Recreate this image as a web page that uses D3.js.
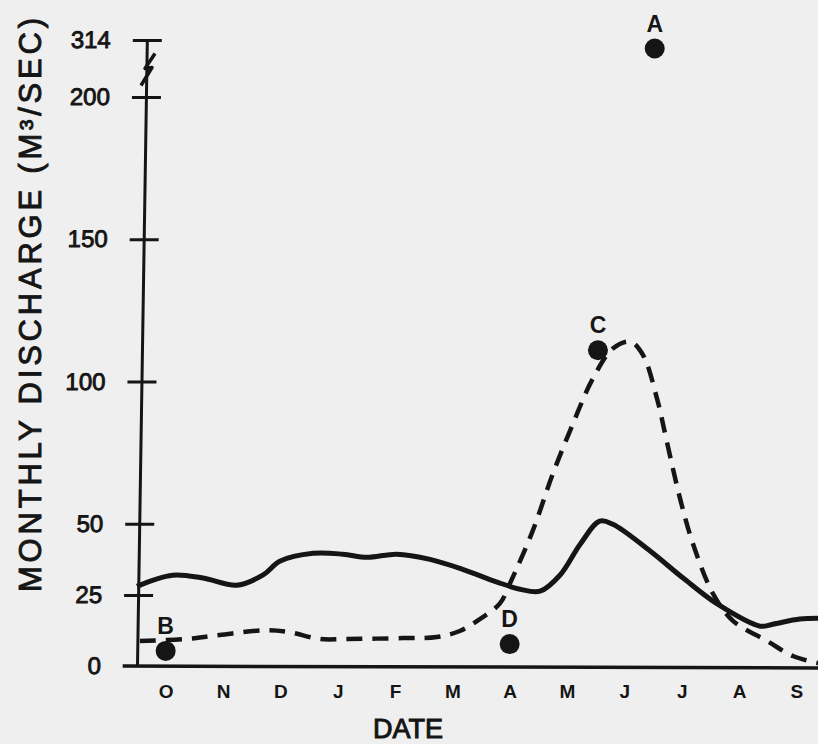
<!DOCTYPE html>
<html>
<head>
<meta charset="utf-8">
<script src="https://cdn.jsdelivr.net/npm/d3@7"></script>
<style>
  body { margin: 0; background: #efefef; }
  svg { display: block; }
  text { font-family: "Liberation Sans", Arial, sans-serif; font-weight: bold; fill: #151515; }
</style>
</head>
<body>
<div class="svg-container"></div>
<script>
'use strict';

// months from October to September (water year)
var months = ['O', 'N', 'D', 'J', 'F', 'M', 'A', 'M', 'J', 'J', 'A', 'S'];
var yTicks = [0, 25, 50, 100, 150, 200, 314];

// [month position, discharge m3/sec]
var solidLine = [
  [-0.5, 28], [0.12, 31.9], [0.65, 30.9], [1.24, 28.4], [1.7, 32],
  [1.99, 36.8], [2.57, 39.6], [3.09, 39.3], [3.51, 38.2], [4.03, 39.3],
  [4.61, 37.5], [5.18, 34], [5.78, 29.5], [6.18, 27], [6.53, 26.3],
  [6.88, 32], [7.23, 42.8], [7.57, 50.9], [7.8, 49.8], [8.45, 40.4],
  [9.02, 31], [9.62, 21.8], [10.37, 14], [10.59, 14.7], [11.06, 16.5], [11.38, 16.8]
];
var dashedLine = [
  [-0.45, 8.8], [0.37, 9.5], [0.94, 10.9], [1.76, 12.6], [2.16, 11.9],
  [2.69, 9.5], [3.16, 9.5], [4.14, 9.8], [4.73, 10.2], [5.13, 12.3],
  [5.48, 16.5], [5.83, 22], [6.0, 28.8], [6.4, 47.4], [6.75, 67.4],
  [7.1, 85], [7.45, 101], [7.8, 111.6], [8.1, 114], [8.32, 109.5],
  [8.57, 94], [8.74, 79], [8.97, 59], [9.2, 42.8], [9.55, 25.3],
  [9.9, 15.8], [10.49, 8.8], [10.94, 3.5], [11.38, 1]
];
var pointNames = ['A', 'B', 'C', 'D'];
var pointMonth = [8.53, 0, 7.54, 6];
var pointValue = [297, 5.3, 111, 7.7];

var width = 818, height = 744;
var ink = '#151515';

var x = d3.scaleLinear().domain([-0.5, 11.5]).range([137, 825]);
// broken axis: 200 to 314 squeezed
var y = d3.scaleLinear().domain([0, 200, 314]).range([666, 97, 40]);

var svg = d3.select('.svg-container')
  .append('svg')
    .attr('width', width)
    .attr('height', height);

svg.append('rect')
    .attr('width', width)
    .attr('height', height)
    .attr('fill', '#efefef');

// y axis, hand drawn so it leans a little to the right
var yAxis = svg.append('g')
    .attr('transform', 'translate(' + x(-0.5) + ',' + y(0) + ') skewX(-0.9) translate(0,' + (-y(0)) + ')')
    .call(d3.axisLeft(y).tickValues(yTicks).tickSize(0).tickPadding(36));
yAxis.select('.domain').attr('stroke', ink).attr('stroke-width', 3);
yAxis.selectAll('.tick line')
    .attr('x1', -14).attr('x2', 15)
    .attr('stroke', ink).attr('stroke-width', 3)
    .filter(function(d) { return d === 0; }).remove();
yAxis.selectAll('.tick text')
    .style('font-size', '24px')
    .style('font-weight', 'normal')
    .style('stroke', ink)
    .style('stroke-width', 0.9)
    .attr('fill', ink);

// break mark between 200 and 314
var bx = x(-0.5) + 9, by = (y(200) + y(314)) / 2 + 2;
svg.append('path')
    .attr('d', 'M' + (bx + 9) + ',' + (by - 17) + 'L' + (bx - 1) + ',' + (by - 2) +
               'L' + (bx + 6) + ',' + (by - 3) + 'L' + (bx - 5) + ',' + (by + 15))
    .attr('fill', 'none')
    .attr('stroke', ink)
    .attr('stroke-width', 3.5)
    .attr('stroke-linejoin', 'round');

// x axis
svg.append('line')
    .attr('x1', x(-0.75)).attr('x2', width)
    .attr('y1', y(0)).attr('y2', y(0) + 2)
    .attr('stroke', ink)
    .attr('stroke-width', 3.5);
var xAxis = svg.append('g')
    .attr('transform', 'translate(0,' + y(0) + ')')
    .call(d3.axisBottom(x).tickValues(d3.range(months.length))
      .tickFormat(function(d) { return months[d]; })
      .tickSize(0).tickPadding(19));
xAxis.select('.domain').remove();
xAxis.selectAll('.tick text')
    .style('font-size', '19px')
    .attr('fill', ink);

// axis titles
svg.append('text')
    .attr('x', 408)
    .attr('y', 738)
    .attr('text-anchor', 'middle')
    .style('font-size', '27px')
    .style('font-weight', 'normal')
    .style('stroke', ink)
    .style('stroke-width', 1)
    .text('DATE');

svg.append('text')
    .attr('transform', 'translate(41,305) rotate(-90)')
    .attr('text-anchor', 'middle')
    .attr('textLength', 574)
    .attr('lengthAdjust', 'spacing')
    .style('font-size', '31px')
    .style('font-weight', 'normal')
    .style('stroke', ink)
    .style('stroke-width', 0.9)
    .text('MONTHLY DISCHARGE (M\u00B3/SEC)');

// curves
var line = d3.line()
    .x(function(d) { return x(d[0]); })
    .y(function(d) { return y(d[1]); })
    .curve(d3.curveCatmullRom.alpha(0.5));

svg.append('path')
    .datum(solidLine)
    .attr('d', line)
    .attr('fill', 'none')
    .attr('stroke', ink)
    .attr('stroke-width', 5)
    .attr('stroke-linejoin', 'round');

svg.append('path')
    .datum(dashedLine)
    .attr('d', line)
    .attr('fill', 'none')
    .attr('stroke', ink)
    .attr('stroke-width', 4.5)
    .attr('stroke-dasharray', '16,10');

// labelled points
var pts = svg.selectAll('.pt')
    .data(pointNames)
  .enter().append('g')
    .attr('class', 'pt')
    .attr('transform', function(d, i) {
      return 'translate(' + x(pointMonth[i]) + ',' + y(pointValue[i]) + ')';
    });
pts.append('circle')
    .attr('r', 10)
    .attr('fill', ink);
pts.append('text')
    .attr('y', -17)
    .attr('text-anchor', 'middle')
    .style('font-size', '23px')
    .text(function(d) { return d; });
</script>
</body>
</html>
